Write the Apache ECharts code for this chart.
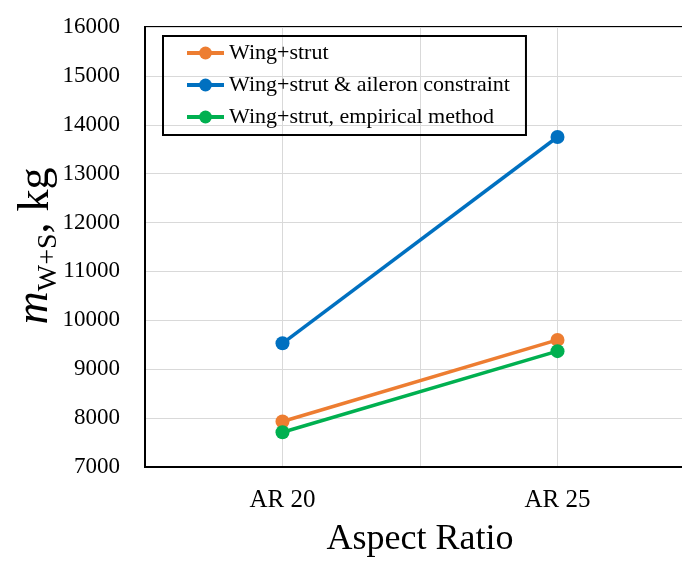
<!DOCTYPE html>
<html>
<head>
<meta charset="utf-8">
<script src="https://cdn.jsdelivr.net/npm/echarts@6/dist/echarts.min.js"></script>
<style>html,body{margin:0;padding:0;background:#fff}#c{width:682px;height:561px}</style>
</head>
<body>
<div id="c"></div>
<script>
var categories = ['AR 20', 'AR 25'];
var categoryPos = [20, 25];
var seriesNames = ['Wing+strut', 'Wing+strut & aileron constraint', 'Wing+strut, empirical method'];
var wingStrut = [7930, 9600];
var wingStrutAileron = [9530, 13750];
var wingStrutEmpirical = [7710, 9370];
var colors = ['#ED7D31', '#0070C0', '#00B050'];

var FONT = 'Liberation Serif';
function pts(vals) { return vals.map(function (v, i) { return [categoryPos[i], v]; }); }
var allVals = [wingStrut, wingStrutAileron, wingStrutEmpirical];

var chart = echarts.init(document.getElementById('c'));
chart.setOption({
  animation: false,
  backgroundColor: '#fff',
  grid: { left: 145, top: 27, width: 550, height: 440, show: true, borderColor: '#000', borderWidth: 2, backgroundColor: 'transparent', outerBoundsMode: 'none', containLabel: false },
  legend: {
    left: 163, top: 36, orient: 'vertical', itemGap: 10, itemWidth: 37, itemHeight: 16,
    padding: [6, 16, 7, 22], borderColor: '#000', borderWidth: 2,
    lineStyle: { width: 4 },
    textStyle: { fontFamily: FONT, fontSize: 22, color: '#000' },
    data: seriesNames
  },
  xAxis: {
    type: 'value', min: 17.5, max: 27.5, interval: 2.5,
    name: 'Aspect Ratio', nameLocation: 'middle', nameGap: 55,
    nameTextStyle: { fontFamily: FONT, fontSize: 36, color: '#000' },
    axisLine: { show: true, lineStyle: { color: '#000', width: 2 } },
    axisTick: { show: false },
    splitLine: { show: true, lineStyle: { color: '#d9d9d9', width: 1 } },
    axisLabel: {
      fontFamily: FONT, fontSize: 25, color: '#000', margin: 21, showMinLabel: true, showMaxLabel: true,
      formatter: function (v) { var i = categoryPos.indexOf(v); return i >= 0 ? categories[i] : ''; }
    }
  },
  yAxis: {
    type: 'value', min: 7000, max: 16000, interval: 1000,
    axisLine: { show: true, lineStyle: { color: '#000', width: 2 } },
    axisTick: { show: false },
    splitLine: { show: true, lineStyle: { color: '#d9d9d9', width: 1 } },
    axisLabel: { fontFamily: FONT, fontSize: 23, color: '#000', margin: 25, formatter: function (v) { return String(v); } }
  },
  graphic: [{
    type: 'text', x: 35, y: 246, rotation: Math.PI / 2,
    style: {
      text: '{m|m}{s|W+S}{k|, kg}',
      align: 'center', verticalAlign: 'middle',
      rich: {
        m: { fontFamily: FONT, fontSize: 46, fontStyle: 'italic', fill: '#000', verticalAlign: 'bottom' },
        s: { fontFamily: FONT, fontSize: 28, fill: '#000', verticalAlign: 'bottom', padding: [0, 0, -5, 0] },
        k: { fontFamily: FONT, fontSize: 44, fill: '#000', verticalAlign: 'bottom' }
      }
    }
  }],
  series: seriesNames.map(function (n, i) {
    return {
      name: n, type: 'line', data: pts(allVals[i]),
      symbol: 'circle', symbolSize: 14,
      itemStyle: { color: colors[i] },
      lineStyle: { color: colors[i], width: 3.5 }
    };
  })
});
</script>
</body>
</html>
